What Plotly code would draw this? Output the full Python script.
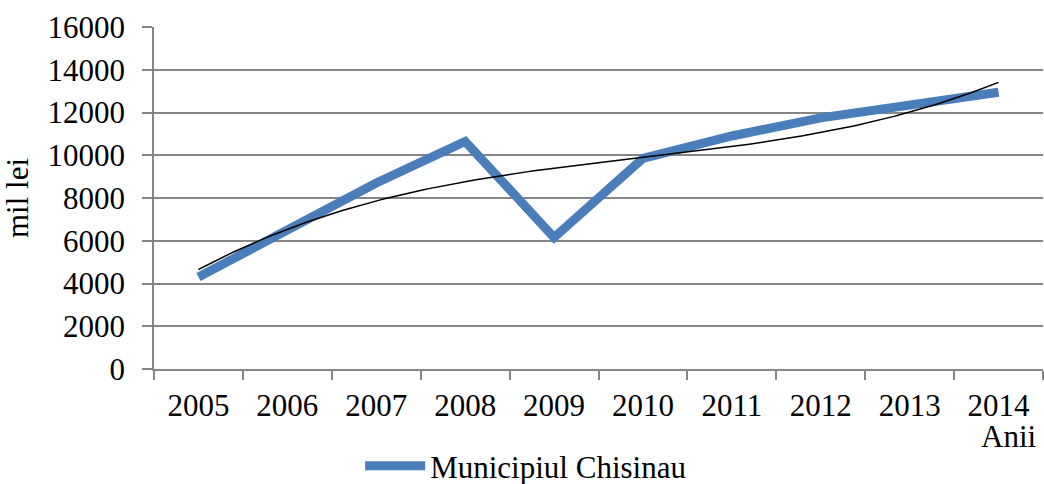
import plotly.graph_objects as go
import numpy as np

# data
years = ["2005", "2006", "2007", "2008", "2009", "2010", "2011", "2012", "2013", "2014"]
chisinau = [4300, 6450, 8700, 10650, 6150, 9850, 10900, 11750, 12300, 12950]
series_name = "Municipiul Chisinau"

x = np.arange(len(years))
# polynomial trendline (order 3), as in the original spreadsheet chart
coef = np.polyfit(x, chisinau, 3)
xs = np.linspace(0, len(years) - 1, 200)
trend = np.polyval(coef, xs)

grid = "#868686"
font = dict(family="Liberation Serif, Times New Roman, serif", size=31, color="black")

fig = go.Figure()
fig.add_trace(go.Scatter(x=x, y=chisinau, mode="lines", name=series_name,
                         line=dict(color="#4A7EBB", width=9)))
fig.add_trace(go.Scatter(x=xs, y=trend, mode="lines", showlegend=False,
                         line=dict(color="black", width=1.5)))

fig.update_layout(
    width=1044, height=484,
    margin=dict(l=154, r=1, t=27, b=115),
    paper_bgcolor="white", plot_bgcolor="white",
    font=font,
    showlegend=True,
    legend=dict(orientation="h", xref="container", yref="container",
                x=0.345, xanchor="left", y=0.037, yanchor="middle",
                itemwidth=60, font=font, bgcolor="rgba(0,0,0,0)"),
)
fig.update_xaxes(
    range=[-0.5, len(years) - 0.5], automargin=False,
    tickmode="array", tickvals=list(x), ticktext=years,
    ticks="", showgrid=False, zeroline=False,
    showline=True, linecolor=grid, linewidth=1.5,
    minor=dict(tickmode="array", tickvals=list(np.arange(len(years) + 1) - 0.5),
               ticks="outside", ticklen=9, tickcolor=grid, tickwidth=1.5, showgrid=False),
    ticklabelstandoff=8,
)
fig.update_yaxes(
    range=[0, 16000], dtick=2000, tickformat="d", automargin=False,
    showgrid=True, gridcolor=grid, gridwidth=1.5,
    zeroline=False, showline=True, linecolor=grid, linewidth=1.5,
    ticks="outside", ticklen=10, tickcolor=grid, tickwidth=1.5,
    ticklabelstandoff=11,
    title=dict(text="mil lei", font=font, standoff=18),
)
fig.add_annotation(text="Anii", xref="paper", yref="paper", x=0.962, y=0,
                   xanchor="center", yanchor="middle", yshift=-67,
                   showarrow=False, font=font)

# drop the default page margin so the figure fills the window without scrollbars
fig.write_html("out.html", config={"displayModeBar": False},
               post_script="document.body.style.margin='0';document.body.style.overflow='hidden';")
